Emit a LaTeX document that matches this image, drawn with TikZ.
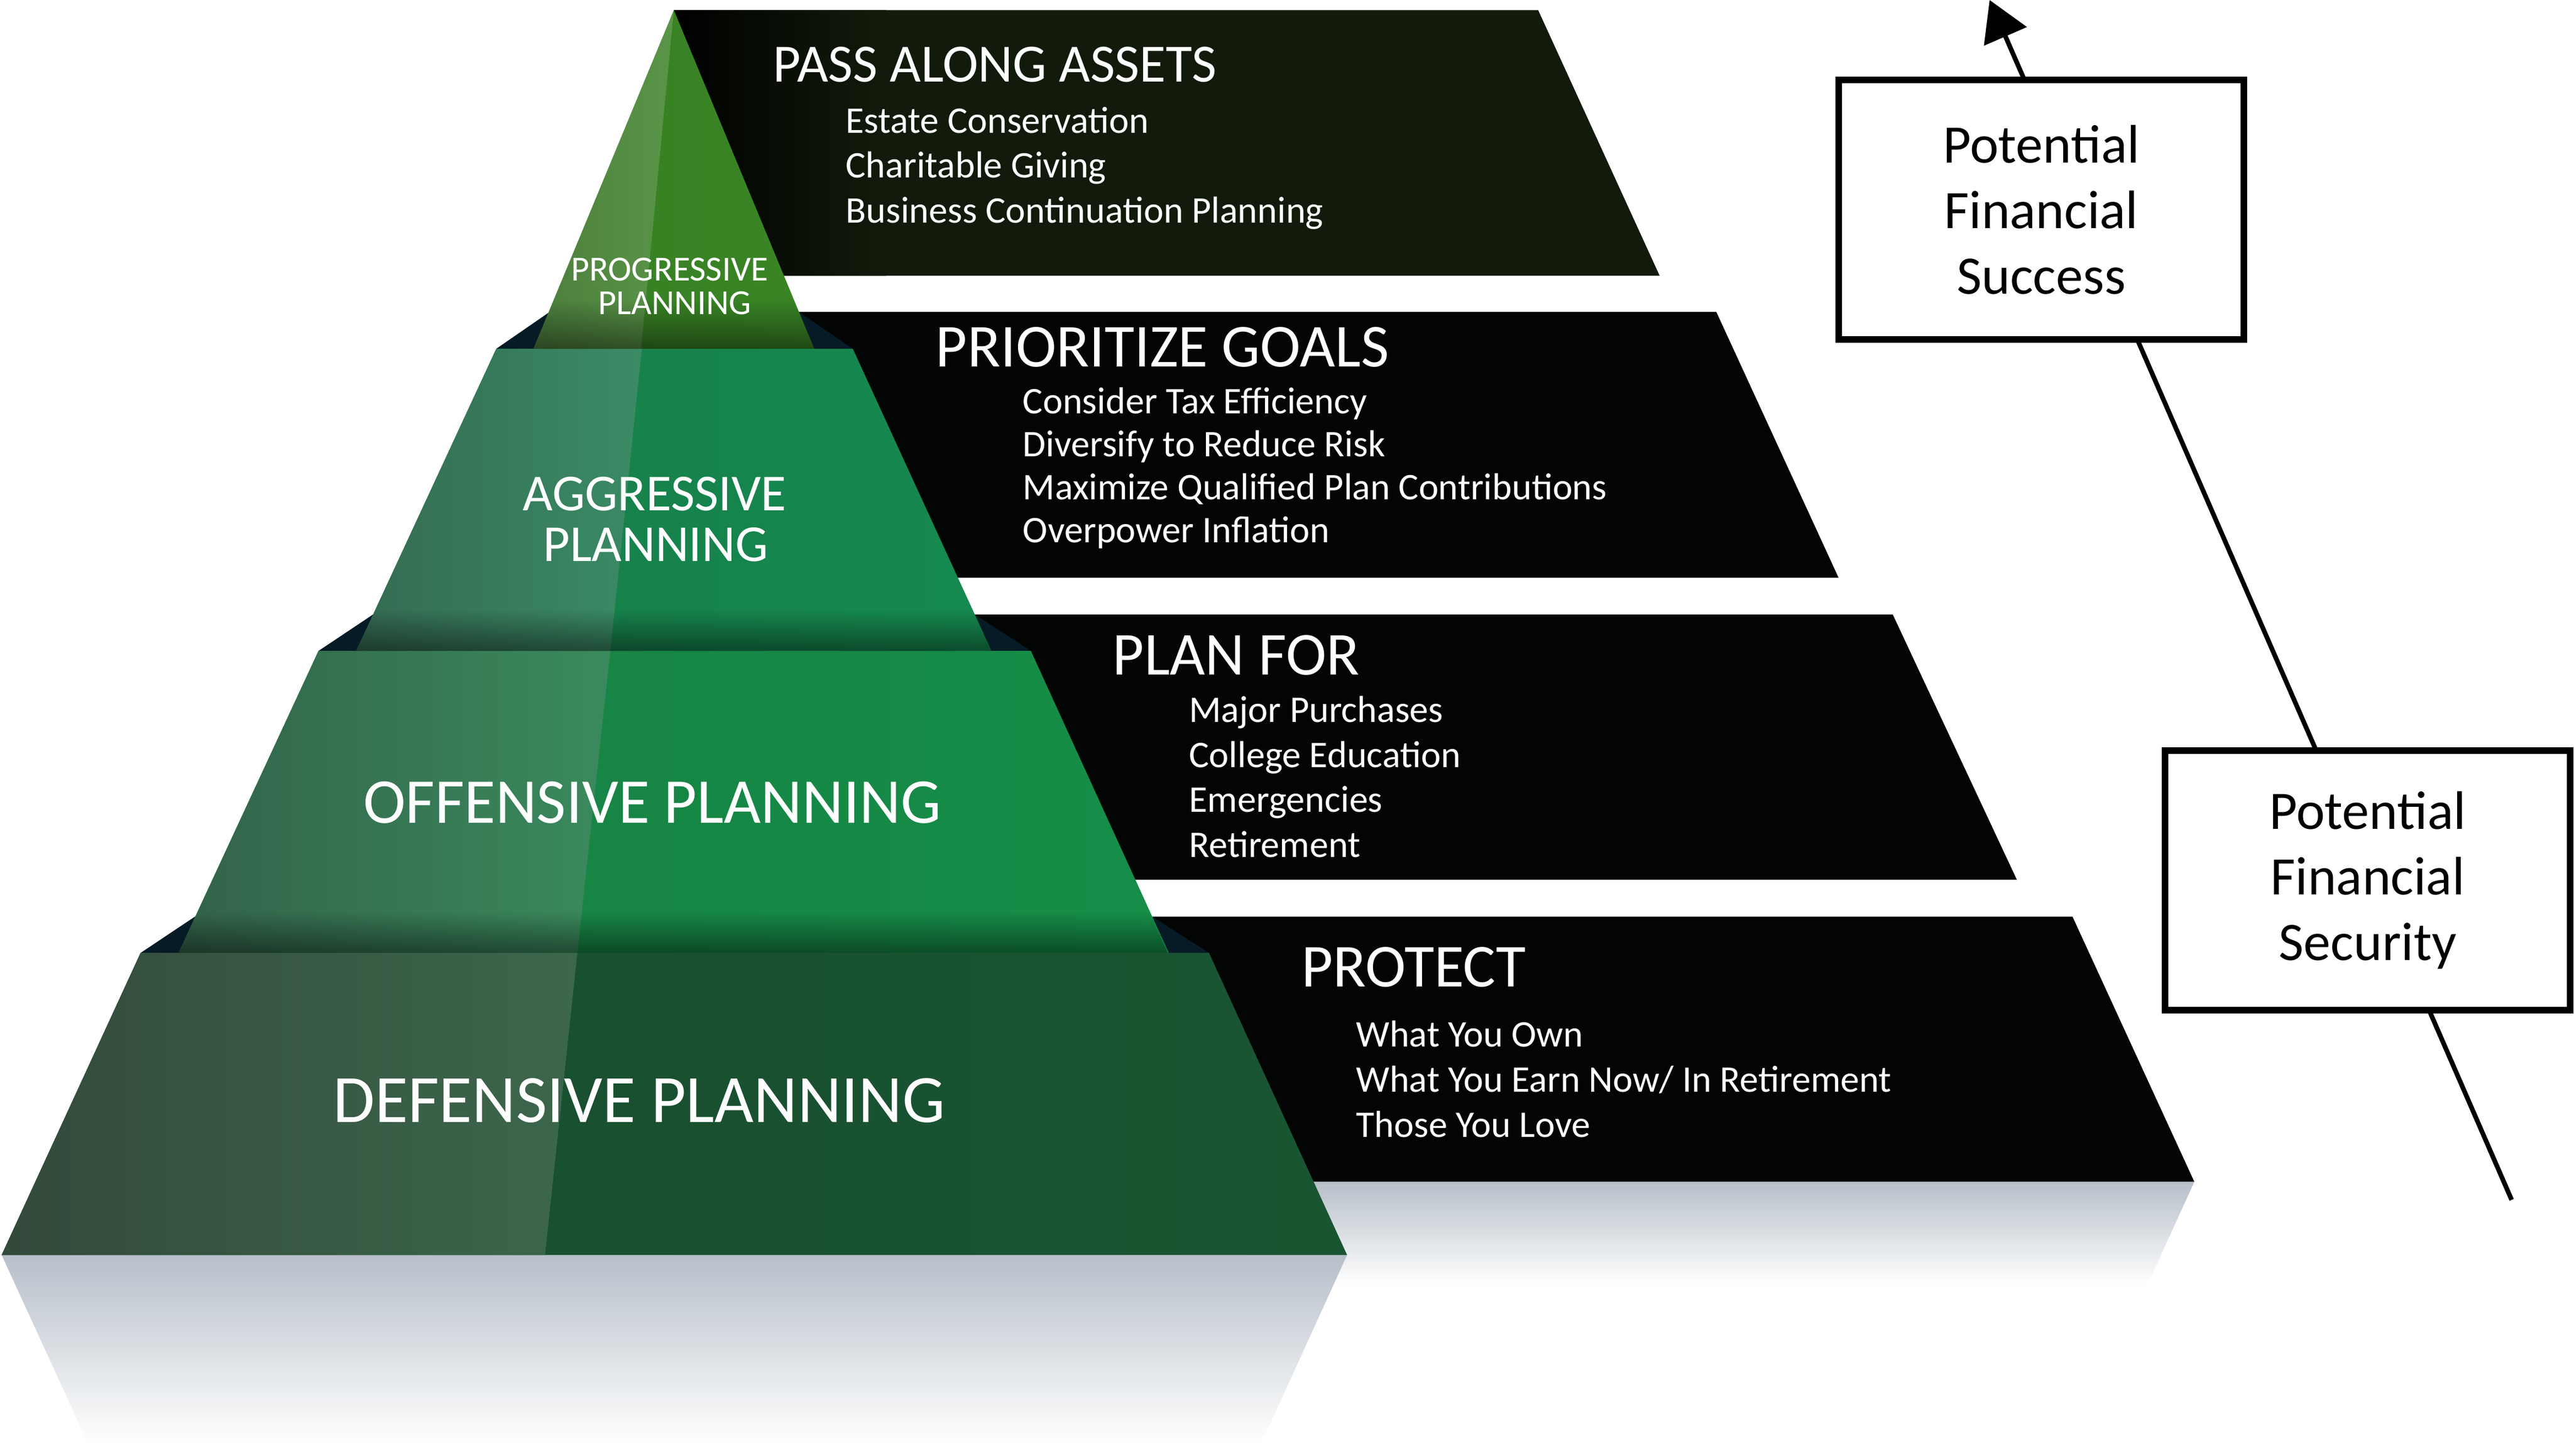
\documentclass[tikz,border=0pt]{standalone}
\usepackage{fontspec}
\setmainfont{Carlito}
\usetikzlibrary{arrows.meta,fadings}

\definecolor{pnlone}{HTML}{121B0B}
\definecolor{pnldark}{HTML}{030504}
\definecolor{shoulder}{HTML}{071B27}
\definecolor{progA}{HTML}{4C7E3D}
\definecolor{progB}{HTML}{5A9548}
\definecolor{progC}{HTML}{377F23}
\definecolor{progD}{HTML}{3A8526}
\definecolor{aggA}{HTML}{356A52}
\definecolor{aggB}{HTML}{3A8B65}
\definecolor{aggC}{HTML}{177B49}
\definecolor{aggD}{HTML}{168A50}
\definecolor{offA}{HTML}{336249}
\definecolor{offB}{HTML}{3A8A5D}
\definecolor{offC}{HTML}{177E42}
\definecolor{offD}{HTML}{168E48}
\definecolor{defA}{HTML}{33493B}
\definecolor{defB}{HTML}{3C674B}
\definecolor{defC}{HTML}{184C2E}
\definecolor{defD}{HTML}{1A5532}
\definecolor{reflgray}{HTML}{B7BFC9}

\begin{document}
\begin{tikzpicture}[x=0.029783cm, y=-0.029783cm,
  panelhead/.style={text=white, anchor=base west, inner sep=0pt, font=\fontsize{31.5}{36}\selectfont},
  panelitem/.style={text=white, anchor=base west, inner sep=0pt, font=\fontsize{19.4}{23}\selectfont},
  tierlabel/.style={text=white, anchor=base, inner sep=0pt},
  goalbox/.style={draw, line width=3.5pt, fill=white, align=center, minimum width=7.35cm,
    minimum height=4.71cm, inner sep=0pt, font=\fontsize{28}{33.9}\selectfont},
  tiershade/.style={black, opacity=0.45, path fading=north}]

\useasboundingbox (0,0) rectangle (1568,887);

% reflections
\shade[top color=reflgray, bottom color=white] (760,720) -- (1336.7,720) -- (1308,783) -- (760,783) -- cycle;
\shade[top color=reflgray, bottom color=white] (1,764.6) -- (820.6,764.6) -- (768,880) -- (54,880) -- cycle;

% panels behind the pyramid
\fill[pnlone] (410.5,6.2) -- (937,6.2) -- (1011,168) -- (430,168) -- cycle;
\shade[left color=black, right color=pnlone] (410.5,6.2) -- (540,6.2) -- (540,168) -- (430,168) -- cycle;
\fill[pnldark] (460,190) -- (1045.5,190) -- (1120,352) -- (460,352) -- cycle;
\fill[pnldark] (560,374.4) -- (1153,374.4) -- (1228.6,536) -- (560,536) -- cycle;
\fill[pnldark] (680,558.5) -- (1262.5,558.5) -- (1336.7,720) -- (680,720) -- cycle;

% tops of the steps
\fill[shoulder] (302.3,212.5) -- (334.9,190) -- (486.5,190) -- (519.5,212.5) -- cycle;
\fill[shoulder] (194,396.6) -- (227.2,374.4) -- (593.8,374.4) -- (628,396.6) -- cycle;
\fill[shoulder] (85.6,580.6) -- (118.7,558.5) -- (702,558.5) -- (736.5,580.6) -- cycle;

% defensive
\shade[left color=defC, right color=defD] (1,764.6) -- (85.6,580.6) -- (736.5,580.6) -- (820.6,764.6) -- cycle;
\shade[left color=defA, right color=defB] (1,764.6) -- (85.6,580.6) -- (351.7,580.6) -- (332,764.6) -- cycle;

% offensive
\shade[left color=offC, right color=offD] (108.7,580.6) -- (194,396.6) -- (628,396.6) -- (712,580.6) -- cycle;
\shade[left color=offA, right color=offB] (108.7,580.6) -- (194,396.6) -- (371.8,396.6) -- (351.7,580.6) -- cycle;
\fill[tiershade] (108.7,580.6) -- (120.3,555.6) -- (700.6,555.6) -- (712,580.6) -- cycle;

% aggressive
\shade[left color=aggC, right color=aggD] (217,396.6) -- (302.3,212.5) -- (519.5,212.5) -- (604,396.6) -- cycle;
\shade[left color=aggA, right color=aggB] (217,396.6) -- (302.3,212.5) -- (391,212.5) -- (371.8,396.6) -- cycle;
\fill[tiershade] (217,396.6) -- (228.6,371.6) -- (592.5,371.6) -- (604,396.6) -- cycle;

% progressive
\shade[left color=progC, right color=progD] (325,212.5) -- (410.5,6.2) -- (496,212.5) -- cycle;
\shade[left color=progA, right color=progB] (325,212.5) -- (410.5,6.2) -- (390.5,212.5) -- cycle;
\fill[tiershade] (325,212.5) -- (337.5,182.5) -- (483.5,182.5) -- (496,212.5) -- cycle;

% tier labels
\node[tierlabel, font=\fontsize{18.2}{22}\selectfont] (progtop) at (408,171.2) {PROGRESSIVE};
\node[tierlabel, font=\fontsize{18.2}{22}\selectfont] (progbot) at (411,191.4) {PLANNING};
\node[tierlabel, font=\fontsize{26.8}{31}\selectfont] (aggtop) at (398.7,311) {AGGRESSIVE};
\node[tierlabel, font=\fontsize{26.8}{31}\selectfont] (aggbot) at (399.4,341.8) {PLANNING};
\node[tierlabel, font=\fontsize{33}{38}\selectfont] (offlabel) at (397.4,501.4) {OFFENSIVE PLANNING};
\node[tierlabel, font=\fontsize{35}{40}\selectfont] (deflabel) at (389.4,683.6) {DEFENSIVE PLANNING};

% panel texts
\node[panelhead, font=\fontsize{27.8}{32}\selectfont] (passhead) at (470.8,49.9) {PASS ALONG ASSETS};
\node[panelitem] (estate) at (515,81) {Estate Conservation};
\node[panelitem] (charity) at (515,108.4) {Charitable Giving};
\node[panelitem] (business) at (515,135.7) {Business Continuation Planning};

\node[panelhead] (goalhead) at (569.8,223.6) {PRIORITIZE GOALS};
\node[panelitem] (tax) at (622.9,252) {Consider Tax Efficiency};
\node[panelitem] (risk) at (622.9,278.3) {Diversify to Reduce Risk};
\node[panelitem] (contrib) at (622.9,304.2) {Maximize Qualified Plan Contributions};
\node[panelitem] (inflation) at (622.9,330.7) {Overpower Inflation};

\node[panelhead] (planhead) at (677.6,411.2) {PLAN FOR};
\node[panelitem] (purchases) at (724.2,439.9) {Major Purchases};
\node[panelitem] (college) at (724.2,467.6) {College Education};
\node[panelitem] (emerg) at (724.2,494.6) {Emergencies};
\node[panelitem] (retire) at (724.2,522.1) {Retirement};

\node[panelhead] (protecthead) at (792.7,601.2) {PROTECT};
\node[panelitem] (own) at (825.9,637.7) {What You Own};
\node[panelitem] (earn) at (825.9,665.4) {What You Earn Now/ In Retirement};
\node[panelitem] (love) at (825.9,692.9) {Those You Love};

% arrow and boxes
\coordinate (foot) at (1530,731);
\coordinate (tip) at (1212,0);
\draw[line width=2.4pt, -{Triangle[length=0.72cm, width=0.83cm]}] (foot) -- (tip);
\node[goalbox] (success) at (1243.5,127.8) {Potential\\Financial\\Success};
\node[goalbox] (security) at (1442.3,536.3) {Potential\\Financial\\Security};
\end{tikzpicture}
\end{document}
